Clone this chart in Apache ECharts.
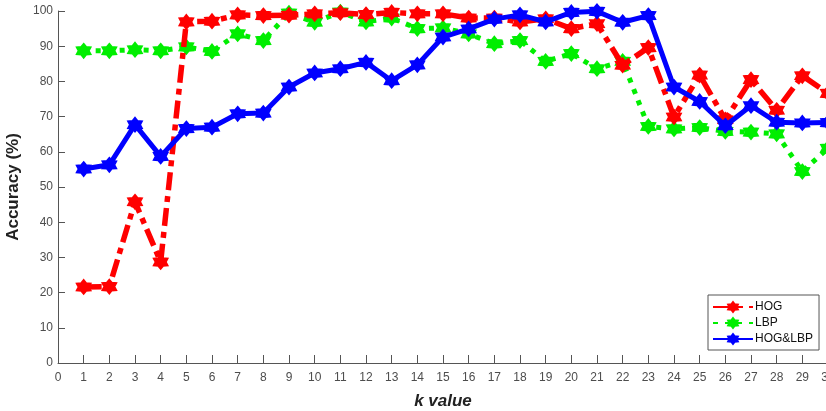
<!DOCTYPE html>
<html>
<head>
<meta charset="utf-8">
<script src="https://cdn.jsdelivr.net/npm/echarts@6/dist/echarts.min.js"></script>
<style>
html,body{margin:0;padding:0;background:#fff;}
#chart{width:826px;height:411px;}
</style>
</head>
<body>
<div id="chart"></div>
<script>
const kValues = [1,2,3,4,5,6,7,8,9,10,11,12,13,14,15,16,17,18,19,20,21,22,23,24,25,26,27,28,29,30];
const hog = [21.6,21.7,45.8,28.7,96.9,97.1,98.9,98.7,98.8,99.2,99.5,99.0,99.6,99.2,99.2,98.0,98.0,96.9,97.8,95.0,96.4,84.6,89.6,69.9,81.8,69.1,80.5,71.8,81.6,76.6];
const lbp = [88.7,88.7,89.0,88.7,89.8,88.5,93.5,91.6,99.4,96.8,99.7,96.9,98.0,95.0,95.2,93.5,90.7,91.6,85.7,87.9,83.6,85.7,67.2,66.5,66.9,65.8,65.6,65.1,54.4,61.0];
const hoglbp = [55.1,56.3,67.7,58.7,66.6,67.0,70.8,71.0,78.4,82.4,83.6,85.4,80.2,84.7,92.6,94.9,97.7,98.9,96.9,99.6,99.9,96.8,98.7,78.4,74.3,67.4,73.1,68.4,68.2,68.3];
const yTicks = [0,10,20,30,40,50,60,70,80,90,100];

const star = 'path://M0,-10 L3.2,-5.5 L8.66,-5 L6.4,0 L8.66,5 L3.2,5.5 L0,10 L-3.2,5.5 L-8.66,5 L-6.4,0 L-8.66,-5 L-3.2,-5.5 Z';
function pairs(arr){ return kValues.map((k,i)=>[k, arr[i]]); }
function mk(name, data, color, dash, width){
  return {
    name: name, type: 'line', data: pairs(data),
    symbol: star, symbolSize: 12,
    itemStyle: {color: color, borderColor: color, borderWidth: 3},
    lineStyle: {color: color, width: width, type: dash, cap: 'butt'},
    clip: false, z: name === 'HOG&LBP' ? 3 : (name === 'HOG' ? 2 : 1)
  };
}
const chart = echarts.init(document.getElementById('chart'), null, {renderer: 'canvas'});
chart.setOption({
  animation: false,
  backgroundColor: '#ffffff',
  textStyle: {fontFamily: 'Liberation Sans, Arial, sans-serif'},
  grid: {left: 58, top: 11, width: 770, bottom: 48, containLabel: false, outerBoundsMode: 'none'},
  legend: {
    orient: 'vertical', left: 708, top: 295,
    backgroundColor: '#fff', borderColor: '#555', borderWidth: 1, borderRadius: 0,
    padding: [6, 6, 5, 4], itemGap: 4, itemWidth: 40, itemHeight: 12,
    textStyle: {fontSize: 12, color: '#111', padding: [0,0,0,-3]},
    data: ['HOG','LBP','HOG&LBP']
  },
  xAxis: {
    type: 'value', min: 0, max: 30, interval: 1,
    name: 'k value', nameLocation: 'middle', nameGap: 30,
    nameTextStyle: {fontSize: 17, fontWeight: 'bold', fontStyle: 'italic', color: '#222'},
    axisLine: {lineStyle: {color: '#555', width: 1}},
    axisTick: {inside: true, length: 8, lineStyle: {color: '#555'}},
    axisLabel: {fontSize: 12, color: '#4d4d4d', margin: 9},
    splitLine: {show: false}
  },
  yAxis: {
    type: 'value', min: 0, max: 100, interval: 10,
    name: 'Accuracy (%)', nameLocation: 'middle', nameGap: 36,
    nameTextStyle: {fontSize: 17, fontWeight: 'bold', color: '#222'},
    axisLine: {show: true, lineStyle: {color: '#555', width: 1}},
    axisTick: {show: true, inside: true, length: 7, lineStyle: {color: '#555'}},
    axisLabel: {fontSize: 12, color: '#4d4d4d', margin: 5,
      formatter: v => yTicks.includes(v) ? String(v) : ''},
    splitLine: {show: false}
  },
  series: [
    mk('HOG', hog, '#ff0000', [18, 6, 6, 6], 5.5),
    mk('LBP', lbp, '#00ee00', [5, 7], 5),
    mk('HOG&LBP', hoglbp, '#0000ff', 'solid', 5)
  ]
});
</script>
</body>
</html>
